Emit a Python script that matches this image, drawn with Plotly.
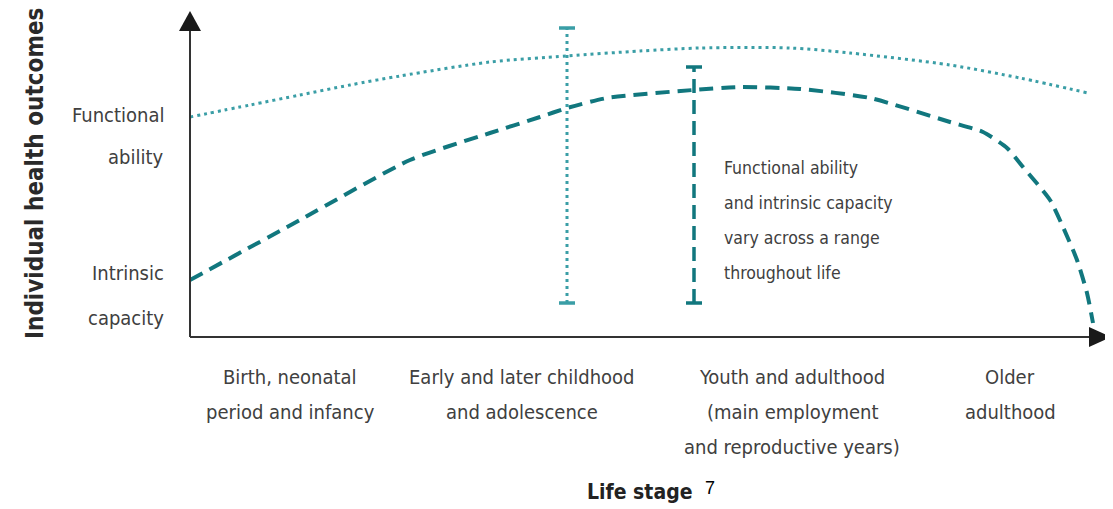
import plotly.graph_objects as go

# ---- data (arbitrary conceptual units) ----
fa_x = [0, 60, 110, 160, 210, 300, 377, 450, 510, 600, 660, 760, 830, 898]
fa_y = [220, 232, 242, 252, 261, 275, 281, 286, 289, 289, 284, 272, 259, 244]

ic_x = [0, 110, 220, 300, 350, 377, 417, 503, 550, 610, 680, 760, 793, 817, 833, 860, 873, 887, 897, 903]
ic_y = [57, 117, 177, 204, 220, 229, 239, 247, 250, 248, 239, 215, 205, 189, 170, 137, 110, 77, 44, 14]

fa_range_x = 377
fa_range = [34, 309]
ic_range_x = 504
ic_range = [34, 270]

y_labels = [("Functional", 115), ("ability", 157), ("Intrinsic", 273), ("capacity", 318)]
stage_labels = [
    (290, ["Birth, neonatal", "period and infancy"]),
    (522, ["Early and later childhood", "and adolescence"]),
    (792, ["Youth and adulthood", "(main employment", "and reproductive years)"]),
    (1010, ["Older", "adulthood"]),
]
note_lines = ["Functional ability", "and intrinsic capacity", "vary across a range", "throughout life"]

# ---- layout geometry (page pixels; page has an 8px body margin) ----
OFF = 8
W, H = 1113 - OFF, 509 - OFF
L, B = 190 - OFF, 337 - OFF      # axis origin inside the figure
XR, YR = W - L, B                # data ranges (1 unit = 1 px)
DASH_C = "#11777e"
DOT_C = "#3a9ea6"
TXT = "#404040"
FONT = "DejaVu Sans Condensed, Liberation Sans Narrow, Arial Narrow, sans-serif"

def px(x):
    return (x - OFF - L) / XR

def py(y):
    return (B - (y - OFF)) / YR

fig = go.Figure()

fig.add_trace(go.Scatter(x=fa_x, y=fa_y, mode="lines",
                         line=dict(color=DOT_C, width=3, dash="3px,4px", shape="spline", smoothing=0.8),
                         hoverinfo="skip"))
fig.add_trace(go.Scatter(x=ic_x, y=ic_y, mode="lines",
                         line=dict(color=DASH_C, width=4, dash="14px,8px", shape="spline", smoothing=0.6),
                         hoverinfo="skip"))

# range bars
fig.add_trace(go.Scatter(x=[fa_range_x, fa_range_x], y=fa_range, mode="lines",
                         line=dict(color=DOT_C, width=3, dash="3px,4px"), hoverinfo="skip"))
fig.add_trace(go.Scatter(x=[ic_range_x, ic_range_x], y=ic_range, mode="lines",
                         line=dict(color=DASH_C, width=3.5, dash="14px,7px"), hoverinfo="skip"))
for xc, rng, col in [(fa_range_x, fa_range, DOT_C), (ic_range_x, ic_range, DASH_C)]:
    for v in rng:
        fig.add_trace(go.Scatter(x=[xc - 8, xc + 8], y=[v, v], mode="lines",
                                 line=dict(color=col, width=3.5), hoverinfo="skip"))

shapes = [
    dict(type="line", xref="paper", yref="paper", x0=0, y0=0, x1=0, y1=py(28),
         line=dict(color="#333333", width=2)),
    dict(type="line", xref="paper", yref="paper", x0=0, y0=0, x1=px(1090), y1=0,
         line=dict(color="#333333", width=2)),
    dict(type="path", xref="paper", yref="paper",
         path=f"M {px(179)} {py(31)} L {px(190)} {py(11)} L {px(201)} {py(31)} Z",
         fillcolor="#1a1a1a", line=dict(width=0)),
    dict(type="path", xref="paper", yref="paper",
         path=f"M {px(1089)} {py(327)} L {px(1111)} {py(337)} L {px(1089)} {py(347)} Z",
         fillcolor="#1a1a1a", line=dict(width=0)),
]

ann = []
ann.append(dict(text="<b>Individual health outcomes</b>", x=px(35), y=py(174), xref="paper", yref="paper",
                showarrow=False, textangle=-90, font=dict(family=FONT, size=24, color="#2a2a2a"),
                xanchor="center", yanchor="middle"))
for t, yy in y_labels:
    ann.append(dict(text=t, x=px(166), y=py(yy), xref="paper", yref="paper", showarrow=False,
                    xanchor="right", yanchor="middle", font=dict(family=FONT, size=20, color=TXT)))
for xc, lines in stage_labels:
    for i, t in enumerate(lines):
        ann.append(dict(text=t, x=px(xc), y=py(377 + 35 * i), xref="paper", yref="paper", showarrow=False,
                        xanchor="center", yanchor="middle", font=dict(family=FONT, size=20, color=TXT)))
for i, t in enumerate(note_lines):
    ann.append(dict(text=t, x=px(722), y=py(168 + 35 * i), xref="paper", yref="paper", showarrow=False,
                    xanchor="left", yanchor="middle", font=dict(family=FONT, size=17.5, color=TXT)))
ann.append(dict(text="<b>Life stage</b>", x=px(694), y=py(492), xref="paper", yref="paper", showarrow=False,
                xanchor="right", yanchor="middle", font=dict(family=FONT, size=21, color="#222222")))
ann.append(dict(text="7", x=px(703), y=py(488), xref="paper", yref="paper", showarrow=False,
                xanchor="left", yanchor="middle", font=dict(family="Liberation Sans, Arial, sans-serif", size=18, color="#000000")))

fig.update_layout(
    width=W, height=H,
    margin=dict(l=L, r=0, t=0, b=H - B, pad=0),
    paper_bgcolor="white", plot_bgcolor="white",
    showlegend=False,
    xaxis=dict(range=[0, XR], visible=False, fixedrange=True),
    yaxis=dict(range=[0, YR], visible=False, fixedrange=True),
    shapes=shapes, annotations=ann,
)

fig.write_html("out.html")
